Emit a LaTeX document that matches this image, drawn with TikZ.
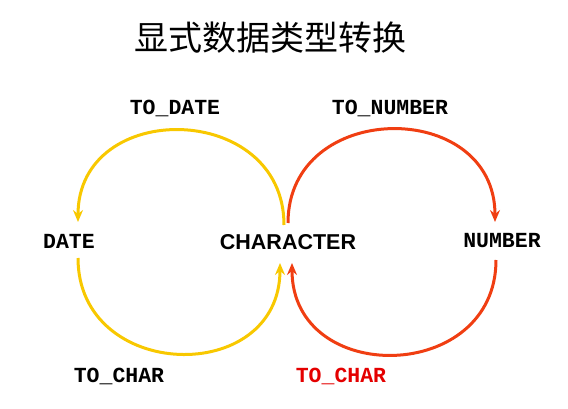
\documentclass[tikz,border=0pt]{standalone}
\usepackage{fontspec}
\usetikzlibrary{arrows.meta}
\newfontfamily\cjk{Noto Sans CJK SC}
\newfontfamily\mono{Liberation Mono}
\newfontfamily\arial{Liberation Sans}
\definecolor{arcyellow}{RGB}{248,200,0}
\definecolor{arcred}{RGB}{240,62,18}
\definecolor{txtred}{RGB}{228,0,0}
\tikzset{
  fn/.style={font=\mono\bfseries\fontsize{21.5}{22}\selectfont,inner sep=0pt},
  conv/.style={line width=3pt,-{Stealth[length=12pt,width=10pt,inset=4pt]}},
}
\begin{document}
\begin{tikzpicture}[x=1pt,y=1pt]
	\useasboundingbox (0,0) rectangle (568,409);
	\def\hup{124} % Höhe der Kontrollpunkte
	\def\hdn{124}
	\node[font=\cjk\fontsize{34}{34}\selectfont] (title) at (270,371) {显式数据类型转换};
	\node[fn] (todate) at (175,301) {TO\_DATE};
	\node[fn] (tonumber) at (390,301) {TO\_NUMBER};
	\node[fn] (date) at (69,168) {DATE};
	\node[font=\arial\bfseries\fontsize{21.5}{22}\selectfont,inner sep=0pt] (char) at (288,167) {CHARACTER};
	\node[fn] (number) at (502,168) {NUMBER};
	\node[fn] (tochardate) at (119,33) {TO\_CHAR};
	\node[fn,text=txtred] (tocharnum) at (341,33) {TO\_CHAR};
	% oben
	\draw[conv,arcyellow] ([shift={(-4,17)}]char.center) .. controls +(0,\hup) and +(0,\hup) .. ([shift={(9,19)}]date.center);
	\draw[conv,arcred] ([shift={(0,19)}]char.center) .. controls +(0,\hup) and +(0,\hup) .. ([shift={(-7,19)}]number.center);
	% unten
	\draw[conv,arcyellow] ([shift={(9,-17)}]date.center) .. controls +(0,-\hdn) and +(0,-\hdn) .. ([shift={(-8,-21)}]char.center);
	\draw[conv,arcred] ([shift={(-6,-19)}]number.center) .. controls +(0,-\hdn) and +(0,-\hdn) .. ([shift={(4,-21)}]char.center);
\end{tikzpicture}
\end{document}
